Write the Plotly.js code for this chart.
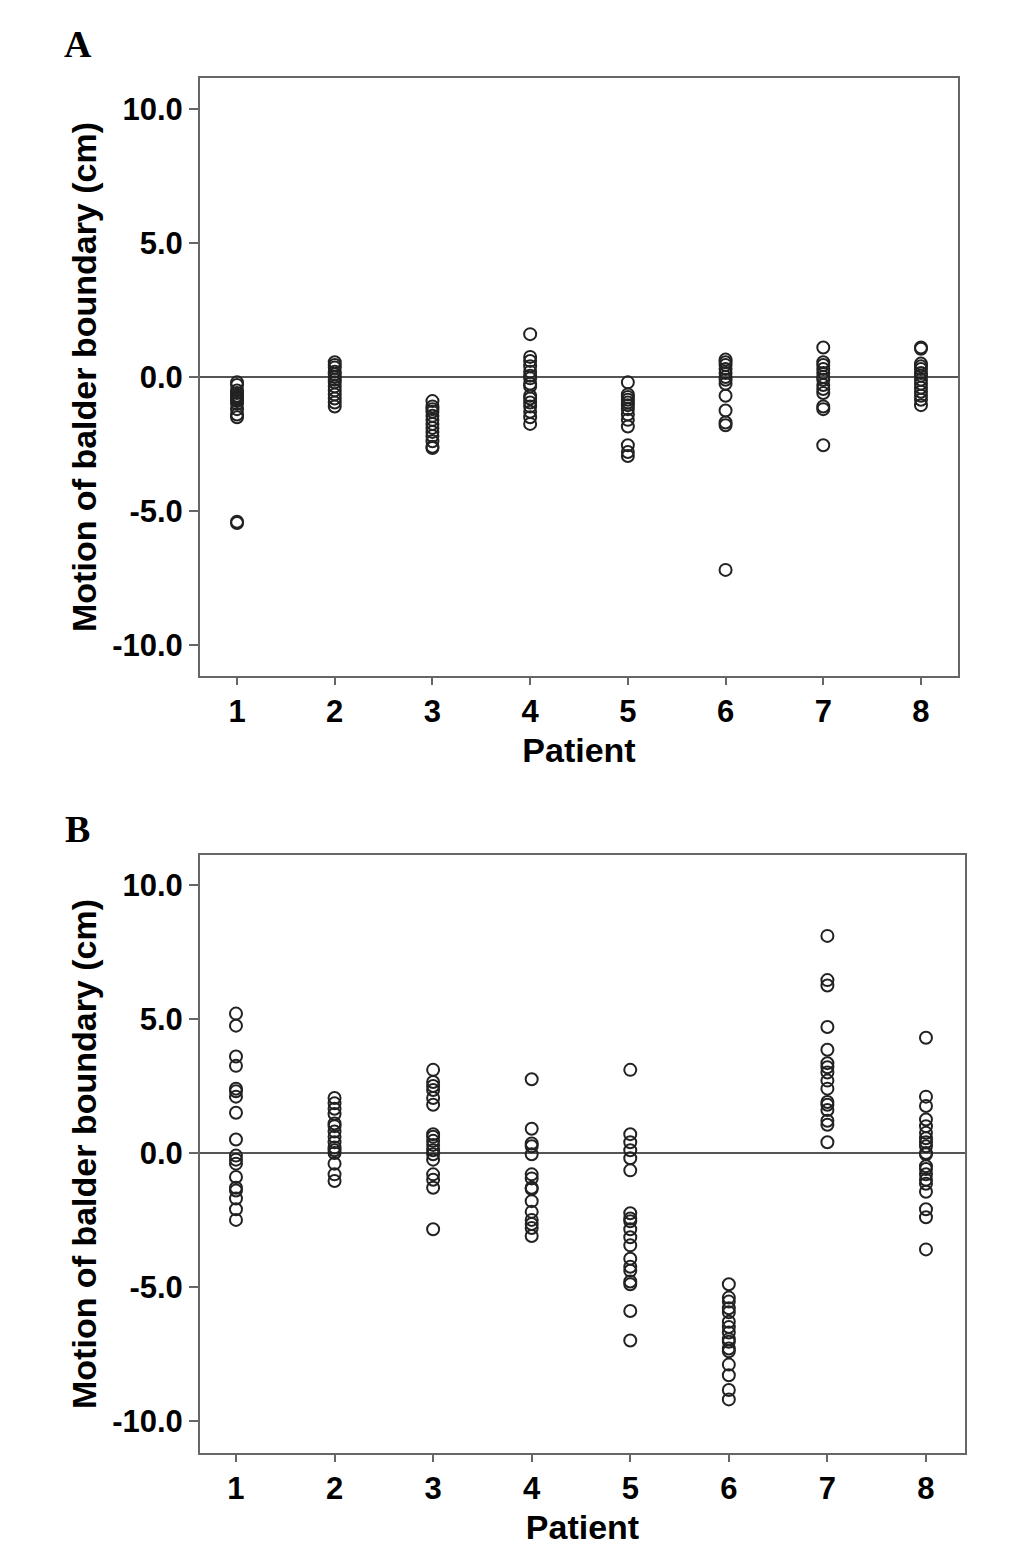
<!DOCTYPE html>
<html>
<head>
<meta charset="utf-8">
<script src="https://cdn.plot.ly/plotly-3.0.1.min.js"></script>
<style>html,body{margin:0;padding:0;background:#fff;}#chart{width:1033px;height:1552px;}</style>
</head>
<body>
<div id="chart"></div>
<script>
// Patient categories and tick labels
const patients = [1, 2, 3, 4, 5, 6, 7, 8];
const yTickVals = [-10, -5, 0, 5, 10];
const yTickText = ["-10.0", "-5.0", "0.0", "5.0", "10.0"];

// Panel A: motion of bladder boundary (cm) per patient
const A_p1 = [-0.2, -0.3, -0.5, -0.6, -0.7, -0.75, -0.8, -0.85, -0.9, -1.0, -1.2, -1.4, -1.5, -5.45, -5.4];
const A_p2 = [0.55, 0.45, 0.35, 0.2, 0.1, 0.0, -0.1, -0.2, -0.35, -0.5, -0.65, -0.8, -0.95, -1.1];
const A_p3 = [-0.9, -1.1, -1.2, -1.3, -1.45, -1.6, -1.75, -1.9, -2.05, -2.2, -2.4, -2.6, -2.65];
const A_p4 = [1.6, 0.75, 0.6, 0.4, 0.2, 0.05, -0.05, -0.25, -0.35, -0.7, -0.8, -0.95, -1.1, -1.3, -1.5, -1.75];
const A_p5 = [-0.2, -0.65, -0.75, -0.85, -0.95, -1.05, -1.2, -1.4, -1.6, -1.85, -2.55, -2.8, -2.95];
const A_p6 = [0.65, 0.55, 0.45, 0.3, 0.15, 0.0, -0.1, -0.25, -0.7, -1.25, -1.7, -1.8, -7.2];
const A_p7 = [1.1, 0.55, 0.45, 0.3, 0.15, 0.0, -0.1, -0.3, -0.45, -0.6, -1.1, -1.2, -2.55];
const A_p8 = [1.1, 1.05, 0.5, 0.4, 0.3, 0.15, 0.05, -0.1, -0.25, -0.4, -0.55, -0.7, -0.85, -1.05];

// Panel B
const B_p1 = [5.2, 4.75, 3.6, 3.25, 2.4, 2.3, 2.1, 1.5, 0.5, -0.1, -0.25, -0.4, -0.9, -1.3, -1.4, -1.7, -2.1, -2.5];
const B_p2 = [2.05, 1.85, 1.65, 1.45, 1.1, 1.0, 0.8, 0.6, 0.4, 0.2, 0.1, 0.0, -0.4, -0.8, -1.05];
const B_p3 = [3.1, 2.65, 2.5, 2.35, 2.05, 1.8, 0.7, 0.6, 0.45, 0.3, 0.1, -0.05, -0.25, -0.8, -1.0, -1.3, -2.85];
const B_p4 = [2.75, 0.9, 0.35, 0.25, -0.05, -0.8, -0.95, -1.3, -1.35, -1.8, -2.2, -2.5, -2.65, -2.8, -3.1];
const B_p5 = [3.1, 0.7, 0.4, 0.1, -0.2, -0.65, -2.25, -2.45, -2.55, -2.85, -3.15, -3.45, -3.95, -4.25, -4.4, -4.8, -4.9, -5.9, -7.0];
const B_p6 = [-4.9, -5.4, -5.55, -5.8, -5.95, -6.3, -6.5, -6.7, -6.95, -7.05, -7.3, -7.4, -7.9, -8.3, -8.85, -9.2];
const B_p7 = [8.1, 6.45, 6.25, 4.7, 3.85, 3.35, 3.2, 3.0, 2.7, 2.4, 1.9, 1.8, 1.6, 1.2, 1.05, 0.4];
const B_p8 = [4.3, 2.1, 1.75, 1.25, 1.0, 0.75, 0.55, 0.4, 0.25, 0.0, -0.05, -0.5, -0.6, -0.8, -1.0, -1.15, -1.45, -2.1, -2.4, -3.6];

const panelA = [A_p1, A_p2, A_p3, A_p4, A_p5, A_p6, A_p7, A_p8];
const panelB = [B_p1, B_p2, B_p3, B_p4, B_p5, B_p6, B_p7, B_p8];

function flatten(panel) {
  const xs = [], ys = [];
  panel.forEach((vals, i) => vals.forEach(v => { xs.push(patients[i]); ys.push(v); }));
  return {xs, ys};
}
const fa = flatten(panelA), fb = flatten(panelB);

const marker = {symbol: 'circle-open', size: 12, color: '#222', line: {width: 2, color: '#222'}};

const traces = [
  {x: fa.xs, y: fa.ys, type: 'scatter', mode: 'markers', marker: marker, xaxis: 'x', yaxis: 'y', showlegend: false},
  {x: fb.xs, y: fb.ys, type: 'scatter', mode: 'markers', marker: marker, xaxis: 'x2', yaxis: 'y2', showlegend: false}
];

const tickFont = {family: 'Liberation Sans, Arial, sans-serif', size: 31, color: '#000', weight: 'bold'};
const titleFont = {family: 'Liberation Sans, Arial, sans-serif', size: 34, color: '#000', weight: 'bold'};

function xAxis(domain, range, anchor) {
  return {
    domain: domain, range: range, anchor: anchor,
    tickvals: patients, ticktext: patients.map(String),
    showline: true, linecolor: '#666', linewidth: 2, mirror: true,
    ticks: 'outside', ticklen: 7, tickwidth: 2, tickcolor: '#666',
    showgrid: false, zeroline: false,
    tickfont: tickFont,
    title: {text: 'Patient', font: titleFont, standoff: 10}
  };
}
function yAxis(domain, range, anchor) {
  return {
    domain: domain, range: range, anchor: anchor,
    tickvals: yTickVals, ticktext: yTickText,
    showline: true, linecolor: '#666', linewidth: 2, mirror: true,
    ticks: 'outside', ticklen: 9, tickwidth: 2, tickcolor: '#666',
    showgrid: false, zeroline: true, zerolinecolor: '#555', zerolinewidth: 2,
    tickfont: tickFont,
    title: {text: 'Motion of balder boundary (cm)', font: titleFont, standoff: 5}
  };
}

const W = 1033, H = 1552;
const layout = {
  width: W, height: H,
  margin: {l: 0, r: 0, t: 0, b: 0},
  paper_bgcolor: '#fff', plot_bgcolor: '#fff',
  xaxis: xAxis([200 / W, 958 / W], [0.621, 8.379], 'y'),
  yaxis: yAxis([1 - 676 / H, 1 - 78 / H], [-11.16, 11.16], 'x'),
  xaxis2: xAxis([200 / W, 965 / W], [0.635, 8.396], 'y2'),
  yaxis2: yAxis([1 - 1453 / H, 1 - 855 / H], [-11.2, 11.12], 'x2'),
  annotations: [
    {text: '<b>A</b>', xref: 'paper', yref: 'paper', x: 78 / W, y: 1 - 44 / H, xanchor: 'center', yanchor: 'middle', showarrow: false,
     font: {family: 'Liberation Serif, Times New Roman, serif', size: 38, color: '#000'}},
    {text: '<b>B</b>', xref: 'paper', yref: 'paper', x: 77 / W, y: 1 - 829 / H, xanchor: 'center', yanchor: 'middle', showarrow: false,
     font: {family: 'Liberation Serif, Times New Roman, serif', size: 38, color: '#000'}}
  ]
};

Plotly.newPlot('chart', traces, layout, {displayModeBar: false, staticPlot: true});
</script>
</body>
</html>
